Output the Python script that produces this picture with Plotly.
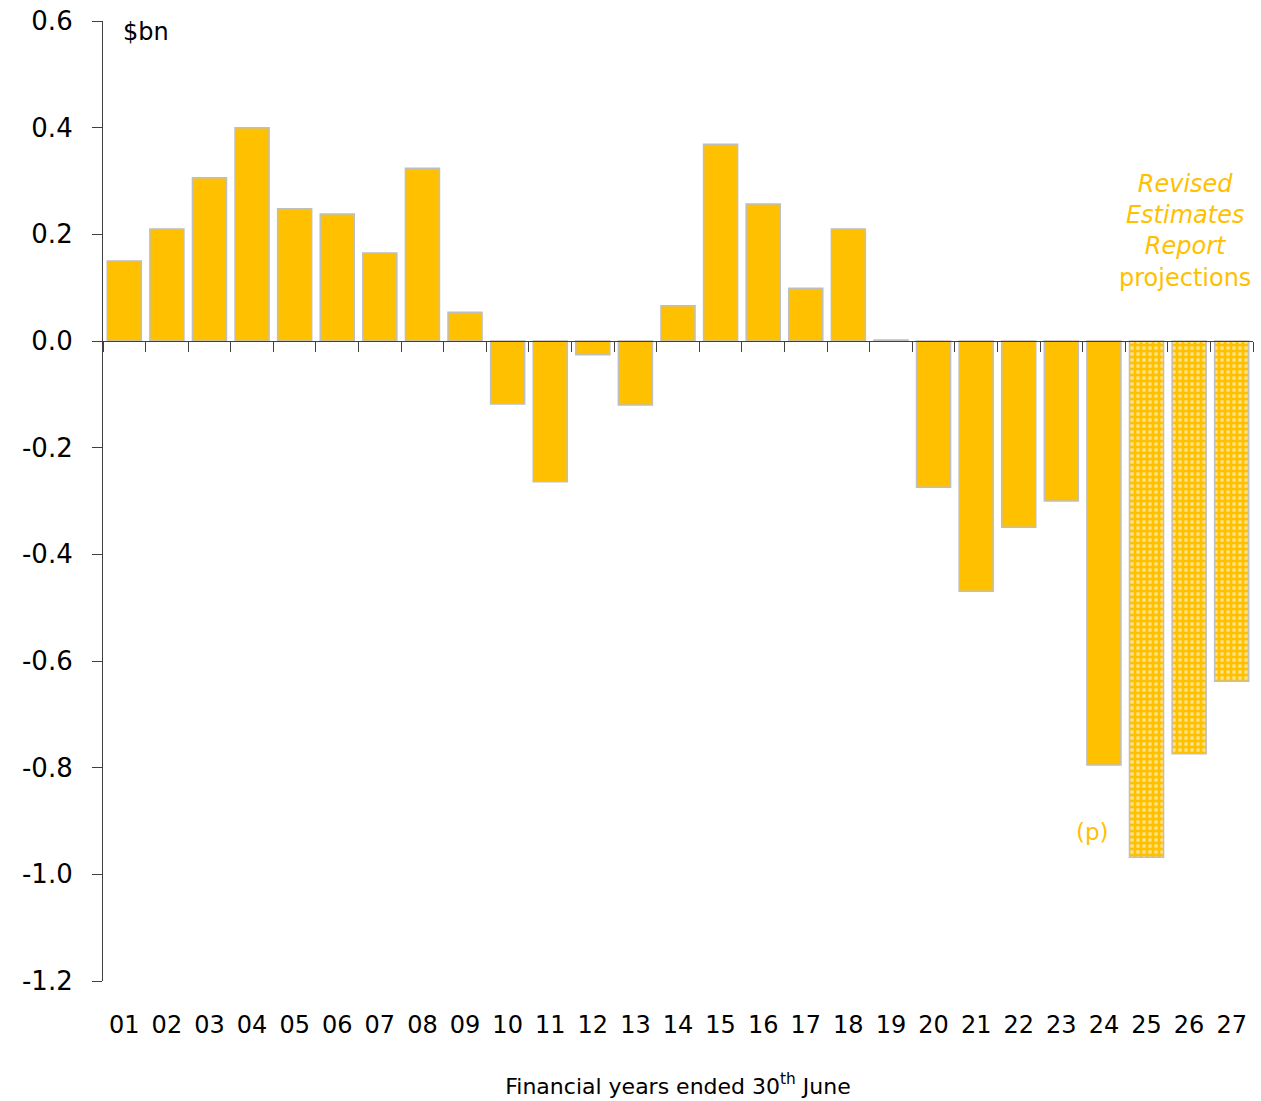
import plotly.graph_objects as go

years = ["01","02","03","04","05","06","07","08","09","10","11","12","13","14",
         "15","16","17","18","19","20","21","22","23","24","25","26","27"]
values = [0.150, 0.210, 0.306, 0.400, 0.248, 0.238, 0.165, 0.324, 0.054, -0.118,
          -0.264, -0.026, -0.120, 0.066, 0.369, 0.257, 0.099, 0.210, 0.002, -0.274,
          -0.469, -0.349, -0.300, -0.795, -0.968, -0.774, -0.638]
projected = [False]*24 + [True]*3
y_ticks = [0.6, 0.4, 0.2, 0.0, -0.2, -0.4, -0.6, -0.8, -1.0, -1.2]

GOLD = "#FFC000"
GREY = "#BFBFBF"
AXIS = "#404040"
FONT = "DejaVu Sans"

fig = go.Figure()
fig.add_trace(go.Bar(
    x=years, y=values, width=0.8,
    marker=dict(
        color=GOLD,
        line=dict(color=GREY, width=1.5),
        pattern=dict(shape=["." if p else "" for p in projected],
                     fgcolor="white", size=6, solidity=0.35),
    ),
    showlegend=False, hoverinfo="x+y",
))
# invisible trace to carry bottom tick labels
fig.add_trace(go.Scatter(x=years, y=[None]*len(years), xaxis="x2",
                         mode="markers", showlegend=False, hoverinfo="skip"))

xrange = [-0.5, len(years) - 0.5]

fig.update_layout(
    width=1261, height=1101,
    margin=dict(l=103, r=8, t=21, b=120, autoexpand=False),
    plot_bgcolor="white", paper_bgcolor="white",
    font=dict(family=FONT, color="black", size=24),
    bargap=0.2,
    xaxis=dict(
        type="category", categoryorder="array", categoryarray=years,
        range=xrange, autorange=False,
        anchor="free", position=1.2/1.8,
        showline=True, linecolor=AXIS, linewidth=1.2,
        ticks="outside", tickson="boundaries", ticklen=10, tickcolor=AXIS,
        showticklabels=False, showgrid=False, zeroline=False, automargin=False,
    ),
    xaxis2=dict(
        type="category", categoryorder="array", categoryarray=years,
        range=xrange, autorange=False,
        overlaying="x", side="bottom", anchor="y",
        showline=False, ticks="outside", ticklen=22, tickcolor="rgba(0,0,0,0)",
        showgrid=False, automargin=False,
        tickfont=dict(size=24, family=FONT),
        title=dict(text="Financial years ended 30<sup>th</sup> June",
                   font=dict(size=22, family=FONT), standoff=40),
    ),
    yaxis=dict(
        range=[-1.2, 0.6], autorange=False, tickvals=y_ticks,
        ticktext=[f"{v:.1f}" for v in y_ticks],
        showline=True, linecolor=AXIS, linewidth=1.2,
        ticks="outside", ticklen=10, tickcolor=AXIS,
        ticklabelstandoff=14, ticklabeloverflow="allow",
        showgrid=False, zeroline=False, automargin=False,
        tickfont=dict(size=26, family=FONT),
    ),
    annotations=[
        dict(text="$bn", xref="paper", yref="y", x=0.016, y=0.58,
             xanchor="left", yanchor="middle", showarrow=False,
             font=dict(size=24, family=FONT)),
        dict(text="<i>Revised<br>Estimates<br>Report</i><br>projections",
             xref="x", yref="y", x=25, y=0.206, xshift=-4,
             xanchor="center", yanchor="middle", showarrow=False,
             font=dict(size=24, family=FONT, color=GOLD)),
        dict(text="(p)", xref="x", yref="y", x=23, y=-0.92, xshift=-11,
             xanchor="center", yanchor="middle", showarrow=False,
             font=dict(size=23, family=FONT, color=GOLD)),
    ],
)

fig.write_html("out.html",
               config={"displayModeBar": False},
               post_script="document.body.style.margin='0';document.body.style.overflow='hidden';")
